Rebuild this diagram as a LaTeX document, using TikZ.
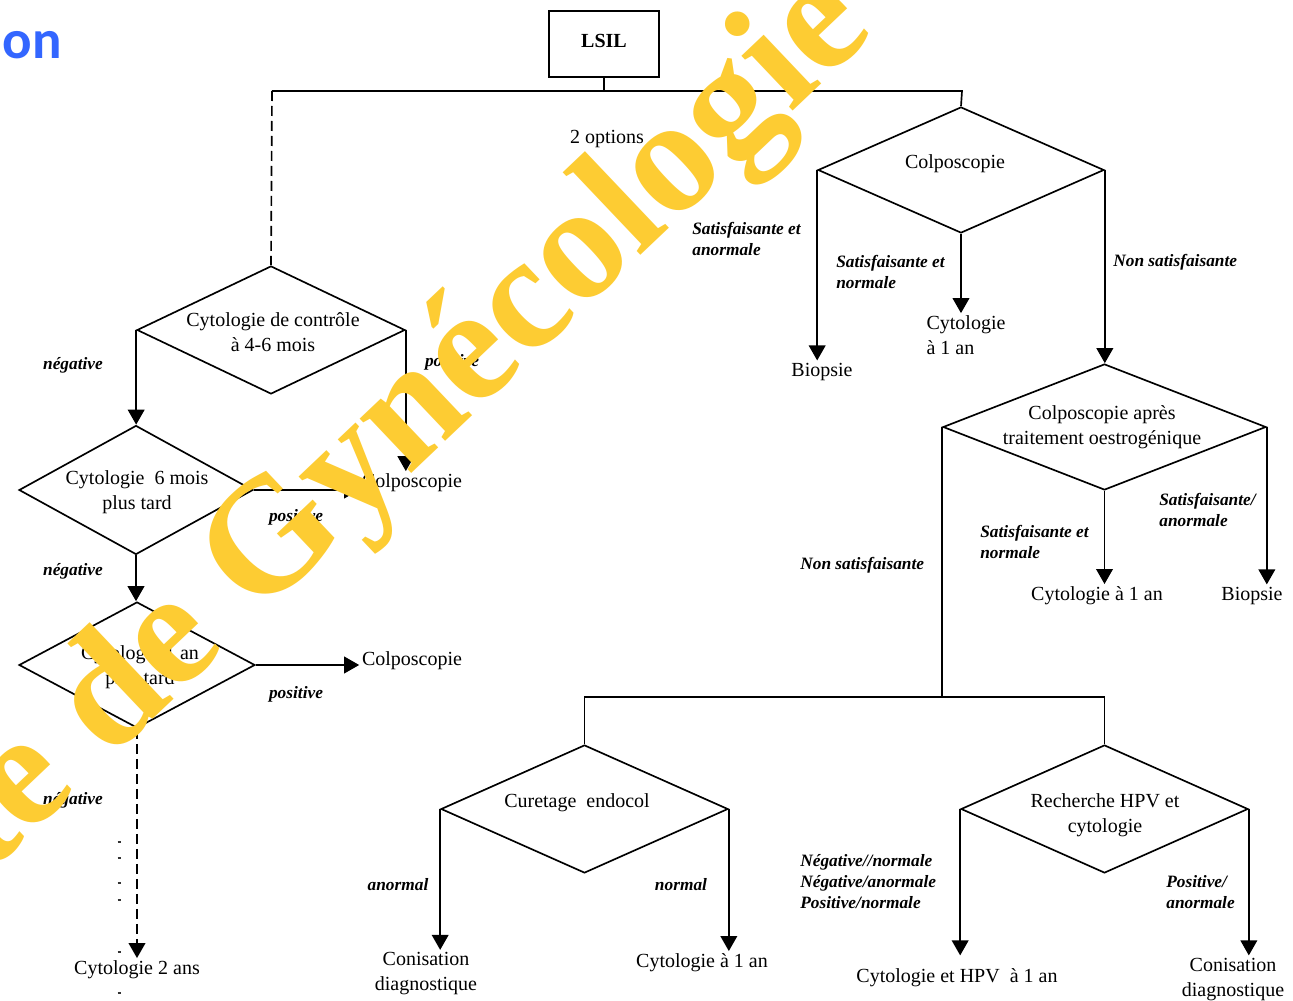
\documentclass[tikz,border=0pt]{standalone}
\usepackage{fontspec}
\setmainfont{Liberation Serif}
\newfontfamily\carl{Carlito}
\usetikzlibrary{arrows.meta,shapes.geometric}
\definecolor{wm}{RGB}{253,204,51}
\definecolor{ttl}{RGB}{51,102,255}
\begin{document}
\begin{tikzpicture}[x=0.6pt,y=-0.6pt,
  dia/.style={draw, diamond, inner sep=0pt, line width=1pt},
  txt/.style={font=\fontsize{12}{15}\selectfont, align=center, inner sep=1.5pt},
  lbl/.style={font=\fontsize{10.4}{12.6}\selectfont\bfseries\itshape, align=left, inner sep=0pt},
  ln/.style={line width=1pt},
  arr/.style={line width=1pt, -{Triangle[length=9pt,width=10pt]}},
  dsh/.style={dash pattern=on 6pt off 3pt},
  wmk/.style={text=wm, font=\fontsize{98}{98}\selectfont\bfseries, inner sep=0pt, rotate=43.5},
]
\useasboundingbox (0,0) rectangle (1293,1001);
\clip (0,0) rectangle (1293,1001);
\fill[white] (0,0) rectangle (1293,1001);

% title fragment
\node[font=\carl\bfseries\fontsize{33}{33}\selectfont, text=ttl, anchor=base east, inner sep=0pt] (title) at (62,59) {ion};

% top
\node[draw, ln, minimum width=66pt, minimum height=39.6pt, font=\fontsize{12}{15}\selectfont\bfseries, text depth=4pt] (lsil) at (604,44) {LSIL};
\coordinate (jL) at (272,91);
\coordinate (jR) at (962,91);
\coordinate (jB) at (943,697);
\node[txt] (opt) at (607,139) {2 options};

% diamonds
\node[dia, minimum width=171.6pt, minimum height=75.6pt] (D1) at (961,170) {};
\node[dia, minimum width=193.8pt, minimum height=75.6pt] (D2) at (1104.5,427) {};
\node[dia, minimum width=172.2pt, minimum height=76.8pt] (D3) at (584.5,809) {};
\node[dia, minimum width=172.2pt, minimum height=76.8pt] (D4) at (1104.5,809) {};
\node[dia, minimum width=160.8pt, minimum height=76.8pt] (L1) at (271,330) {};
\node[dia, minimum width=140.4pt, minimum height=77.4pt] (L2) at (136,490) {};
\node[dia, minimum width=141.6pt, minimum height=75.6pt] (L3) at (137,665) {};

% diamond texts
\node[txt] (D1t) at (955,164) {Colposcopie};
\node[txt] (D2t) at (1102,427.5) {Colposcopie après\\traitement oestrogénique};
\node[txt] (D3t) at (577,803) {Curetage\ \ endocol};
\node[txt] (D4t) at (1105,815) {Recherche HPV et\\cytologie};
\node[txt] (L1t) at (273,332.5) {Cytologie de contrôle\\à 4-6 mois};
\node[txt] (L2t) at (137,492.5) {Cytologie\ \ 6 mois\\plus tard};
\node[txt] (L3t) at (140,667.5) {Cytologie 1 an\\plus tard};

% outcome texts
\node[txt] (bio1) at (822,372) {Biopsie};
\node[txt, align=left] (cyt1) at (966,335.5) {Cytologie\\à 1 an};
\node[txt] (cyt2) at (1097,596) {Cytologie à 1 an};
\node[txt] (bio2) at (1252,596) {Biopsie};
\node[txt] (con1) at (426,974) {Conisation\\diagnostique};
\node[txt] (cyt3) at (702,963) {Cytologie à 1 an};
\node[txt] (cyt4) at (957,978) {Cytologie et HPV\ \ à 1 an};
\node[txt] (con2) at (1233,979.5) {Conisation\\diagnostique};
\node[txt] (colA) at (412,483) {Colposcopie};
\node[txt] (colB) at (412,661) {Colposcopie};
\node[txt] (cyt5) at (137,970) {Cytologie 2 ans};

% labels
\node[lbl, anchor=west] (s1) at (692,238.5) {Satisfaisante et\\anormale};
\node[lbl, anchor=west] (s2) at (836,272) {Satisfaisante et\\normale};
\node[lbl, anchor=west] (s3) at (1113,262) {Non satisfaisante};
\node[lbl, anchor=west] (s4) at (800,565) {Non satisfaisante};
\node[lbl, anchor=west] (s5) at (980,541.5) {Satisfaisante et\\normale};
\node[lbl, anchor=west] (s6) at (1159,510) {Satisfaisante/\\anormale};
\node[lbl] (s7) at (398,885) {anormal};
\node[lbl] (s8) at (681,885) {normal};
\node[lbl, anchor=west] (s9) at (800,882) {Négative//normale\\Négative/anormale\\Positive/normale};
\node[lbl, anchor=west] (s10) at (1166,892.5) {Positive/\\anormale};
\node[lbl] (n1) at (73,365) {négative};
\node[lbl] (p1) at (452,362) {positive};
\node[lbl] (p2) at (296,517) {positive};
\node[lbl] (n2) at (73,571) {négative};
\node[lbl] (p3) at (296,694) {positive};
\node[lbl] (n3) at (73,800) {négative};

% connectors
\draw[ln] (lsil.south) -- (lsil.south |- jL);
\draw[ln] (jL) -- (jR) -- (D1.north);
\draw[ln, dsh] (jL) -- (L1.north);
\draw[arr] (D1.west) -- (D1.west |- bio1.north);
\draw[arr] (D1.south) -- (D1.south |- cyt1.north);
\draw[arr] (D1.east) -- (D1.east |- D2.north);
\draw[ln] (D2.west) -- (D2.west |- jB);
\draw[ln] (D3.north) -- (D3.north |- jB) -- (D4.north |- jB) -- (D4.north);
\draw[arr] (D2.south) -- (D2.south |- cyt2.north);
\draw[arr] (D2.east) -- (D2.east |- bio2.north);
\draw[arr] (D3.west) -- (D3.west |- con1.north);
\draw[arr] (D3.east) -- (D3.east |- cyt3.north);
\draw[arr] (D4.west) -- (D4.west |- con2.north);
\draw[arr] (D4.east) -- (D4.east |- con2.north);
\draw[arr] (L1.west) -- (L1.west |- L2.north);
\draw[arr] (L1.east) -- (L1.east |- colA.north);
\draw[arr] (L2.east) -- (L2.east -| colA.west);
\draw[arr] (L2.south) -- (L2.south |- L3.north);
\draw[arr] (L3.east) -- (L3.east -| colB.west);
\draw[arr, dsh] (L3.south) -- (L3.south |- cyt5.north);

% stray marks
\foreach \yy in {842,858,883,900,952,993}
  \draw[line width=1.1pt, black!80] (117.5,\yy) -- (120.5,\yy);

% watermark
\node[wmk, anchor=base west] (wmark) at (257,620) {\llap{Société de\ }Gynécologie};
\end{tikzpicture}
\end{document}
